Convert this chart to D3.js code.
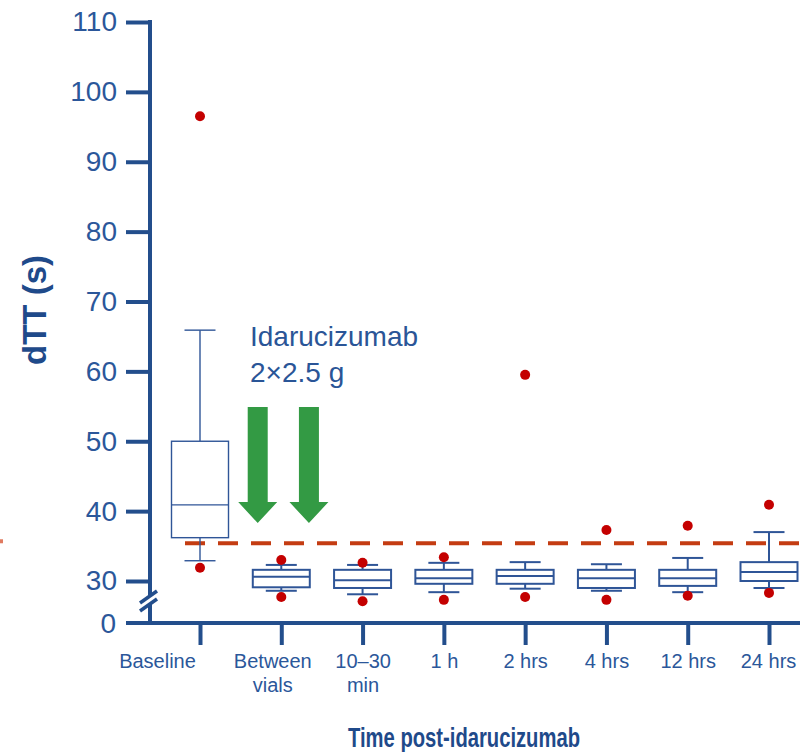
<!DOCTYPE html>
<html>
<head>
<meta charset="utf-8">
<script src="https://cdn.jsdelivr.net/npm/d3@7"></script>
<style>
  html, body { margin: 0; padding: 0; background: #fff; }
  svg { display: block; }
  text { font-family: "Liberation Sans", Arial, sans-serif; }
</style>
</head>
<body>
<svg id="chart" width="800" height="752"></svg>
<script>
// dTT over time after idarucizumab (box plots per time point)
const categories = ["Baseline", "Between vials", "10–30 min", "1 h", "2 hrs", "4 hrs", "12 hrs", "24 hrs"];
const tickLabels = [["Baseline"], ["Between", "vials"], ["10–30", "min"], ["1 h"], ["2 hrs"], ["4 hrs"], ["12 hrs"], ["24 hrs"]];
const whiskerLow  = [32.9, 28.6, 28.1, 28.4, 28.9, 28.6, 28.4, 29.0];
const q1          = [36.2, 29.1, 29.0, 29.6, 29.6, 29.0, 29.3, 30.0];
const median      = [40.9, 30.6, 30.1, 30.4, 30.7, 30.4, 30.4, 31.3];
const q3          = [50.0, 31.6, 31.6, 31.6, 31.6, 31.6, 31.6, 32.7];
const whiskerHigh = [65.9, 32.3, 32.3, 32.6, 32.7, 32.4, 33.3, 37.0];
const outliers    = [[96.5, 31.9], [33.0, 27.7], [32.6, 27.1], [33.4, 27.3], [59.5, 27.7], [37.3, 27.3], [37.9, 27.9], [40.9, 28.3]];
const yTicks = [30, 40, 50, 60, 70, 80, 90, 100, 110];
const referenceLine = 35.4;
const arrowTop = 54.9, arrowHeadStart = 41.3, arrowTip = 38.3;

const axisColor = "#234e8c";
const textColor = "#2b579a";
const boxColor = "#2f5597";

const svg = d3.select("#chart");

const x = d3.scalePoint().domain(categories).range([200, 769]);
const y = d3.scaleLinear().domain([30, 110]).range([581, 22]);
const yZero = 623;
const axisX = 150;

// reference (dashed) line
svg.append("line")
  .attr("x1", 185).attr("x2", 800)
  .attr("y1", y(referenceLine)).attr("y2", y(referenceLine))
  .attr("stroke", "#c43c12").attr("stroke-width", 4)
  .attr("stroke-dasharray", "20,13");
svg.append("rect").attr("x", 0).attr("y", y(referenceLine) - 4).attr("width", 3).attr("height", 4)
  .attr("fill", "#e07a60");

// boxes
const g = svg.append("g");
categories.forEach((c, i) => {
  const cx = x(c);
  const sw = i === 0 ? 1.4 : 2;
  const bw = 57, cw = 31;
  const grp = g.append("g").attr("stroke", boxColor).attr("stroke-width", sw).attr("fill", "none");
  grp.append("line").attr("x1", cx).attr("x2", cx).attr("y1", y(whiskerHigh[i])).attr("y2", y(q3[i]));
  grp.append("line").attr("x1", cx).attr("x2", cx).attr("y1", y(q1[i])).attr("y2", y(whiskerLow[i]));
  grp.append("line").attr("x1", cx - cw / 2).attr("x2", cx + cw / 2).attr("y1", y(whiskerHigh[i])).attr("y2", y(whiskerHigh[i]));
  grp.append("line").attr("x1", cx - cw / 2).attr("x2", cx + cw / 2).attr("y1", y(whiskerLow[i])).attr("y2", y(whiskerLow[i]));
  grp.append("rect").attr("x", cx - bw / 2).attr("width", bw)
    .attr("y", y(q3[i])).attr("height", y(q1[i]) - y(q3[i])).attr("fill", "#fff");
  grp.append("line").attr("x1", cx - bw / 2).attr("x2", cx + bw / 2).attr("y1", y(median[i])).attr("y2", y(median[i]));
  outliers[i].forEach(v => {
    g.append("circle").attr("cx", cx).attr("cy", y(v)).attr("r", 5).attr("fill", "#c40000");
  });
});

// y axis
const yAxis = d3.axisLeft(y).tickValues(yTicks).tickSize(24).tickPadding(9).tickFormat(d3.format("d"));
const ya = svg.append("g").attr("transform", `translate(${axisX},0)`).call(yAxis);
ya.select(".domain").remove();
ya.selectAll(".tick line").attr("stroke", axisColor).attr("stroke-width", 4);
ya.selectAll(".tick text").attr("fill", textColor).attr("font-size", 28)
  .attr("font-family", "Liberation Sans, Arial, sans-serif");
svg.append("line").attr("x1", axisX).attr("x2", axisX).attr("y1", y(110) - 2).attr("y2", yZero)
  .attr("stroke", axisColor).attr("stroke-width", 4);
svg.append("text").attr("x", axisX - 34).attr("y", yZero).attr("dy", "0.35em")
  .attr("text-anchor", "end").attr("fill", textColor).attr("font-size", 28).text("0");

// axis break
const brk = svg.append("g");
brk.append("polygon").attr("points", `${axisX - 9},${602} ${axisX + 7},${591} ${axisX + 7},${598} ${axisX - 9},${609}`)
  .attr("fill", "#fff");
brk.append("line").attr("x1", axisX - 10).attr("y1", 603).attr("x2", axisX + 7).attr("y2", 591)
  .attr("stroke", axisColor).attr("stroke-width", 3.5);
brk.append("line").attr("x1", axisX - 10).attr("y1", 611).attr("x2", axisX + 7).attr("y2", 599)
  .attr("stroke", axisColor).attr("stroke-width", 3.5);

// x axis
svg.append("line").attr("x1", 126).attr("x2", 800).attr("y1", yZero).attr("y2", yZero)
  .attr("stroke", axisColor).attr("stroke-width", 4);
const xAxis = d3.axisBottom(x).tickSize(22).tickFormat(() => "");
const xa = svg.append("g").attr("transform", `translate(0,${yZero})`).call(xAxis);
xa.select(".domain").remove();
xa.selectAll(".tick line").attr("stroke", axisColor).attr("stroke-width", 4);
// first two labels sit a little left of their ticks
const labelShift = [-43, -9, 0, 0, 0, 0, 0, -1];
xa.selectAll(".tick").each(function (d, i) {
  const t = d3.select(this).append("text").attr("y", 45).attr("text-anchor", "middle")
    .attr("fill", textColor).attr("font-size", 20);
  tickLabels[i].forEach((line, k) => {
    t.append("tspan").attr("x", labelShift[i]).attr("dy", k === 0 ? 0 : 24).text(line);
  });
});

// axis titles
svg.append("text").attr("transform", `translate(46,310) rotate(-90)`)
  .attr("text-anchor", "middle").attr("fill", "#1f4a8a").attr("font-size", 33).attr("font-weight", "bold")
  .text("dTT (s)");
svg.append("text").attr("x", 348).attr("y", 747)
  .attr("fill", "#1f4a8a").attr("font-size", 27).attr("font-weight", "bold")
  .attr("textLength", 232).attr("lengthAdjust", "spacingAndGlyphs")
  .text("Time post-idarucizumab");

// annotation
const ann = svg.append("text").attr("fill", "#2a5597").attr("font-size", 28);
ann.append("tspan").attr("x", 250).attr("y", 346).text("Idarucizumab");
ann.append("tspan").attr("x", 250).attr("y", 382).text("2×2.5 g");

// arrows
const step = x.step();
[0.71, 1.34].forEach(f => {
  const cx = x(categories[0]) + f * step;
  const sh = 10, hw = 19.5;
  const pts = [
    [cx - sh, y(arrowTop)], [cx + sh, y(arrowTop)], [cx + sh, y(arrowHeadStart)],
    [cx + hw, y(arrowHeadStart)], [cx, y(arrowTip)], [cx - hw, y(arrowHeadStart)],
    [cx - sh, y(arrowHeadStart)]
  ];
  svg.append("polygon").attr("points", pts.map(p => p.join(",")).join(" ")).attr("fill", "#339a44");
});
</script>
</body>
</html>
